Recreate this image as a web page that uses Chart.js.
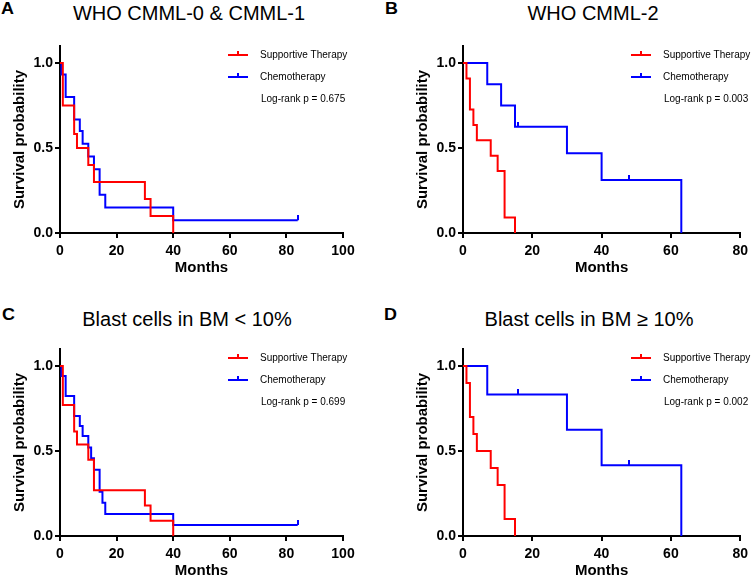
<!DOCTYPE html>
<html><head><meta charset="utf-8">
<script src="https://cdn.jsdelivr.net/npm/chart.js@4.4.0/dist/chart.umd.min.js"></script>
<style>
html,body{margin:0;padding:0;background:#fff;overflow:hidden;width:753px;height:579px;position:relative;font-family:"Liberation Sans",Arial,sans-serif;}
canvas{position:absolute;}
.title{position:absolute;font-size:20px;line-height:20px;white-space:nowrap;transform:translateX(-50%);color:#000;}
.letter{position:absolute;font-size:16px;line-height:16px;font-weight:bold;color:#000;transform:scaleX(1.12);transform-origin:left;}
</style></head><body>
<div class="letter" style="left:1px;top:1px">A</div>
<div class="letter" style="left:385px;top:1px">B</div>
<div class="letter" style="left:2px;top:307px">C</div>
<div class="letter" style="left:384px;top:307px">D</div>
<div class="title" style="left:189px;top:3px">WHO CMML-0 &amp; CMML-1</div>
<div class="title" style="left:593px;top:3px">WHO CMML-2</div>
<div class="title" style="left:187px;top:309px">Blast cells in BM &lt; 10%</div>
<div class="title" style="left:589px;top:309px">Blast cells in BM ≥ 10%</div>
<canvas id="cA" width="376" height="290" style="left:0;top:0"></canvas>
<canvas id="cB" width="377" height="290" style="left:376px;top:0"></canvas>
<canvas id="cC" width="376" height="290" style="left:0;top:303px"></canvas>
<canvas id="cD" width="377" height="290" style="left:376px;top:303px"></canvas>
<script>
// ---- Data ----
const seriesLabels = ['Supportive Therapy', 'Chemotherapy'];
const yTickValues = [0, 0.5, 1.0];
const xTicksA = [0, 20, 40, 60, 80, 100];
const xTicksB = [0, 20, 40, 60, 80];
const pValues = ['0.675', '0.003', '0.699', '0.002'];

// Panel A: WHO CMML-0 & CMML-1
const timeA_sup = [0, 1, 5, 6, 10, 12, 30, 32, 40];
const survA_sup = [1, 0.75, 0.583, 0.5, 0.4, 0.3, 0.2, 0.1, 0];
const timeA_che = [0, 0.5, 2, 5, 7, 8, 10, 12, 14, 16, 40, 84];
const survA_che = [1, 0.933, 0.8, 0.667, 0.6, 0.525, 0.45, 0.375, 0.225, 0.15, 0.075, 0.075];
const censTimeA_che = [84];
const censSurvA_che = [0.075];

// Panel B: WHO CMML-2
const timeB_sup = [0, 1, 2, 3, 4, 8, 10, 12, 15];
const survB_sup = [1, 0.909, 0.727, 0.636, 0.545, 0.455, 0.364, 0.091, 0];
const timeB_che = [0, 7, 11, 15, 30, 40, 63];
const survB_che = [1, 0.875, 0.75, 0.625, 0.469, 0.3125, 0];
const censTimeB_che = [16, 48];
const censSurvB_che = [0.625, 0.3125];

// Panel C: Blast cells in BM < 10%
const timeC_sup = [0, 1, 5, 6, 10, 12, 30, 32, 40];
const survC_sup = [1, 0.77, 0.615, 0.538, 0.449, 0.269, 0.18, 0.09, 0];
const timeC_che = [0, 0.5, 2, 5, 7, 8, 10, 11, 12, 14, 15, 16, 40, 84];
const survC_che = [1, 0.941, 0.824, 0.706, 0.647, 0.588, 0.52, 0.457, 0.389, 0.26, 0.195, 0.13, 0.065, 0.065];
const censTimeC_che = [84];
const censSurvC_che = [0.065];

// Panel D: Blast cells in BM >= 10%
const timeD_sup = [0, 1, 2, 3, 4, 8, 10, 12, 15];
const survD_sup = [1, 0.9, 0.7, 0.6, 0.5, 0.4, 0.3, 0.1, 0];
const timeD_che = [0, 7, 30, 40, 63];
const survD_che = [1, 0.833, 0.625, 0.4167, 0];
const censTimeD_che = [16, 48];
const censSurvD_che = [0.833, 0.4167];

// ---- Rendering ----
const RED = 'rgb(255,0,0)';
const BLUE = 'rgb(0,0,255)';
const FONT = '"Liberation Sans", Arial, sans-serif';

function xy(t, s) { return t.map((v, i) => ({x: v, y: s[i]})); }
function tickImage(color) {
  const c = document.createElement('canvas');
  c.width = 2; c.height = 10;
  const g = c.getContext('2d');
  g.fillStyle = color; g.fillRect(0, 0, 2, 5);
  return c;
}

const kmLegend = {
  id: 'kmLegend',
  afterDraw(chart, args, opts) {
    const {ctx, chartArea} = chart;
    const x0 = chartArea.left + 168;
    let y = chartArea.top + 9;
    ctx.save();
    ctx.font = '10px ' + FONT;
    ctx.textBaseline = 'middle';
    ctx.textAlign = 'left';
    chart.data.datasets.filter(d => d.isCurve).forEach(ds => {
      ctx.strokeStyle = ds.borderColor;
      ctx.lineWidth = 2;
      ctx.beginPath();
      ctx.moveTo(x0, y); ctx.lineTo(x0 + 20, y);
      ctx.moveTo(x0 + 10, y); ctx.lineTo(x0 + 10, y - 4);
      ctx.stroke();
      ctx.fillStyle = '#000';
      ctx.fillText(ds.label, x0 + 32, y);
      y += 22;
    });
    ctx.fillStyle = '#000';
    ctx.fillText('Log-rank p = ' + opts.p, x0 + 33, y);
    ctx.restore();
  }
};

function makeKM(id, d, layout) {
  const datasets = [
    {label: seriesLabels[0], data: xy(d.supT, d.supS), borderColor: RED, backgroundColor: RED,
     borderWidth: 2, stepped: 'before', showLine: true, pointRadius: 0, isCurve: true},
    {label: seriesLabels[1], data: xy(d.cheT, d.cheS), borderColor: BLUE, backgroundColor: BLUE,
     borderWidth: 2, stepped: 'before', showLine: true, pointRadius: 0, isCurve: true},
    {label: '', data: xy(d.censT, d.censS), showLine: false, pointStyle: tickImage(BLUE),
     pointRadius: 5, borderColor: BLUE, backgroundColor: BLUE}
  ];
  return new Chart(document.getElementById(id), {
    type: 'scatter',
    data: {datasets},
    plugins: [kmLegend],
    options: {
      responsive: false, animation: false, devicePixelRatio: 1,
      layout: {padding: {top: 46, right: layout.padRight, left: 0, bottom: 0}},
      plugins: {legend: {display: false}, tooltip: {enabled: false}, kmLegend: {p: d.p}},
      scales: {
        x: {
          type: 'linear', min: 0, max: d.xTicks[d.xTicks.length - 1],
          afterBuildTicks: s => { s.ticks = d.xTicks.map(v => ({value: v})); },
          afterFit: s => { s.height = 57; },
          ticks: {font: {family: FONT, size: 14, weight: 'bold'}, color: '#000', padding: 5, maxRotation: 0,
                  callback: v => String(v)},
          grid: {drawOnChartArea: false, color: '#000', lineWidth: 2, tickLength: 5},
          border: {color: '#000', width: 2},
          title: {display: true, text: 'Months', color: '#000', font: {family: FONT, size: 15, weight: 'bold'},
                  padding: {top: 0, bottom: 13}}
        },
        y: {
          type: 'linear', min: 0, max: 1.1,
          afterBuildTicks: s => { s.ticks = yTickValues.map(v => ({value: v})); },
          afterFit: s => { s.width = layout.yWidth; },
          ticks: {font: {family: FONT, size: 14, weight: 'bold'}, color: '#000', padding: 2,
                  callback: v => Number(v).toFixed(1)},
          grid: {drawOnChartArea: false, color: '#000', lineWidth: 2, tickLength: 5},
          border: {color: '#000', width: 2},
          title: {display: true, text: 'Survival probability', color: '#000',
                  font: {family: FONT, size: 15, weight: 'bold'}, padding: {top: layout.yTitlePad, bottom: 0}}
        }
      }
    }
  });
}

const layoutLeft = {padRight: 33, yWidth: 60, yTitlePad: 11};
const layoutRight = {padRight: 9, yWidth: 87, yTitlePad: 38};

makeKM('cA', {supT: timeA_sup, supS: survA_sup, cheT: timeA_che, cheS: survA_che,
  censT: censTimeA_che, censS: censSurvA_che, xTicks: xTicksA, p: pValues[0]}, layoutLeft);
makeKM('cB', {supT: timeB_sup, supS: survB_sup, cheT: timeB_che, cheS: survB_che,
  censT: censTimeB_che, censS: censSurvB_che, xTicks: xTicksB, p: pValues[1]}, layoutRight);
makeKM('cC', {supT: timeC_sup, supS: survC_sup, cheT: timeC_che, cheS: survC_che,
  censT: censTimeC_che, censS: censSurvC_che, xTicks: xTicksA, p: pValues[2]}, layoutLeft);
makeKM('cD', {supT: timeD_sup, supS: survD_sup, cheT: timeD_che, cheS: survD_che,
  censT: censTimeD_che, censS: censSurvD_che, xTicks: xTicksB, p: pValues[3]}, layoutRight);
</script>
</body></html>
